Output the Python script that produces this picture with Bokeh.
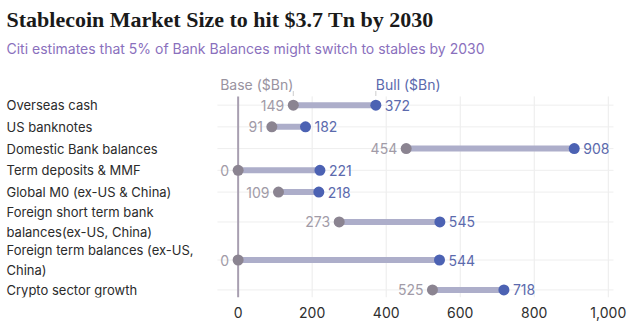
from bokeh.plotting import figure
from bokeh.models import Range1d, FixedTicker, NumeralTickFormatter, Title, ColumnDataSource
from bokeh.core.properties import value
from bokeh.embed import file_html
from bokeh.resources import INLINE
import numpy as np

# ---- data ----
categories = [
    "Overseas cash",
    "US banknotes",
    "Domestic Bank balances",
    "Term deposits & MMF",
    "Global M0 (ex-US & China)",
    "Foreign short term bank\nbalances(ex-US, China)",
    "Foreign term balances (ex-US,\nChina)",
    "Crypto sector growth",
]
base = [149, 91, 454, 0, 109, 273, 0, 525]
bull = [372, 182, 908, 221, 218, 545, 544, 718]
x_ticks = [0, 200, 400, 600, 800, 1000]

TITLE = "Stablecoin Market Size to hit $3.7 Tn by 2030"
SUBTITLE = "Citi estimates that 5% of Bank Balances might switch to stables by 2030"
BASE_HDR = "Base ($Bn)"
BULL_HDR = "Bull ($Bn)"

# ---- layout helpers ----
heights = np.array([1.75 if "\n" in c else 1.0 for c in categories])
bottoms = np.cumsum(heights)
centers = bottoms - heights / 2
total = bottoms[-1]

X0, X1 = -642.0, 1060.0
GX0, GX1 = -56, 1014

FONT = "Inter"
GREY_DOT = "#8b8491"
BLUE_DOT = "#4c62b3"
GREY_TXT = "#a19ba7"
BLUE_TXT = "#5b6aad"
BAR = "#adaeca"

p = figure(width=630, height=328, output_backend="svg", toolbar_location=None,
           x_range=Range1d(X0, X1), y_range=Range1d(9.35, -1.645),
           y_axis_location=None, min_border_left=0, min_border_right=0,
           min_border_top=0, min_border_bottom=31)
p.outline_line_color = None
p.xgrid.visible = False
p.ygrid.visible = False

# titles
sub = Title(text=SUBTITLE, text_font=FONT, text_font_size="14px", text_font_style="normal",
            text_color="#8a70bd", offset=6, standoff=4)
p.add_layout(sub, "above")
main = Title(text=TITLE, text_font="Liberation Serif", text_font_size="22px",
             text_font_style="bold", text_color="#1a1a1a", offset=6, standoff=8)
p.add_layout(main, "above")

# x axis
ax = p.xaxis[0]
ax.ticker = FixedTicker(ticks=x_ticks)
ax.formatter = NumeralTickFormatter(format="0,0")
ax.axis_line_color = None
ax.major_tick_line_color = None
ax.minor_tick_line_color = None
ax.major_label_text_font = FONT
ax.major_label_text_font_size = "14px"
ax.major_label_text_color = "#2e2e2e"
ax.major_label_standoff = 3

# grid lines (drawn to limited extents)
p.segment(x0=x_ticks[1:], x1=x_ticks[1:], y0=0.1, y1=total - 0.15,
          line_color="#ebebeb", line_width=1)
p.segment(x0=GX0, x1=GX1, y0=centers, y1=centers, line_color="#eeeeee", line_width=1)
p.segment(x0=[0], x1=[0], y0=0.1, y1=total - 0.15, line_color="#a89fb1", line_width=2)

src = ColumnDataSource(dict(cat=categories, y=centers, base=base, bull=bull,
                            base_s=[str(v) for v in base], bull_s=[str(v) for v in bull]))

p.segment(x0="base", x1="bull", y0="y", y1="y", source=src, line_color=BAR, line_width=6)
p.scatter(x="base", y="y", source=src, size=11, fill_color=GREY_DOT, line_color=None)
p.scatter(x="bull", y="y", source=src, size=11, fill_color=BLUE_DOT, line_color=None)

p.text(x="base", y="y", text="base_s", source=src, x_offset=-9, text_align="right",
       text_baseline="middle", text_font=value(FONT), text_font_size="14px", text_color=GREY_TXT)
p.text(x="bull", y="y", text="bull_s", source=src, x_offset=9, text_align="left",
       text_baseline="middle", text_font=value(FONT), text_font_size="14px", text_color=BLUE_TXT)

# category labels
p.text(x=X0, y="y", text="cat", source=src, x_offset=6, text_align="left",
       text_baseline="middle", text_font=value(FONT), text_font_size="13px",
       text_color="#2b2b2b", text_line_height=1.2)

# header labels
p.segment(x0=[base[0], bull[0]], x1=[base[0], bull[0]], y0=-0.15, y1=0.08,
          line_color="#cccccc", line_width=1)
p.text(x=[base[0]], y=[-0.47], text=[BASE_HDR], text_align="right", text_baseline="middle",
       text_font=value(FONT), text_font_size="14px", text_color="#99939f")
p.text(x=[bull[0]], y=[-0.47], text=[BULL_HDR], text_align="left", text_baseline="middle",
       text_font=value(FONT), text_font_size="14px", text_color=BLUE_TXT)

open("out.html", "w").write(file_html(p, INLINE))
